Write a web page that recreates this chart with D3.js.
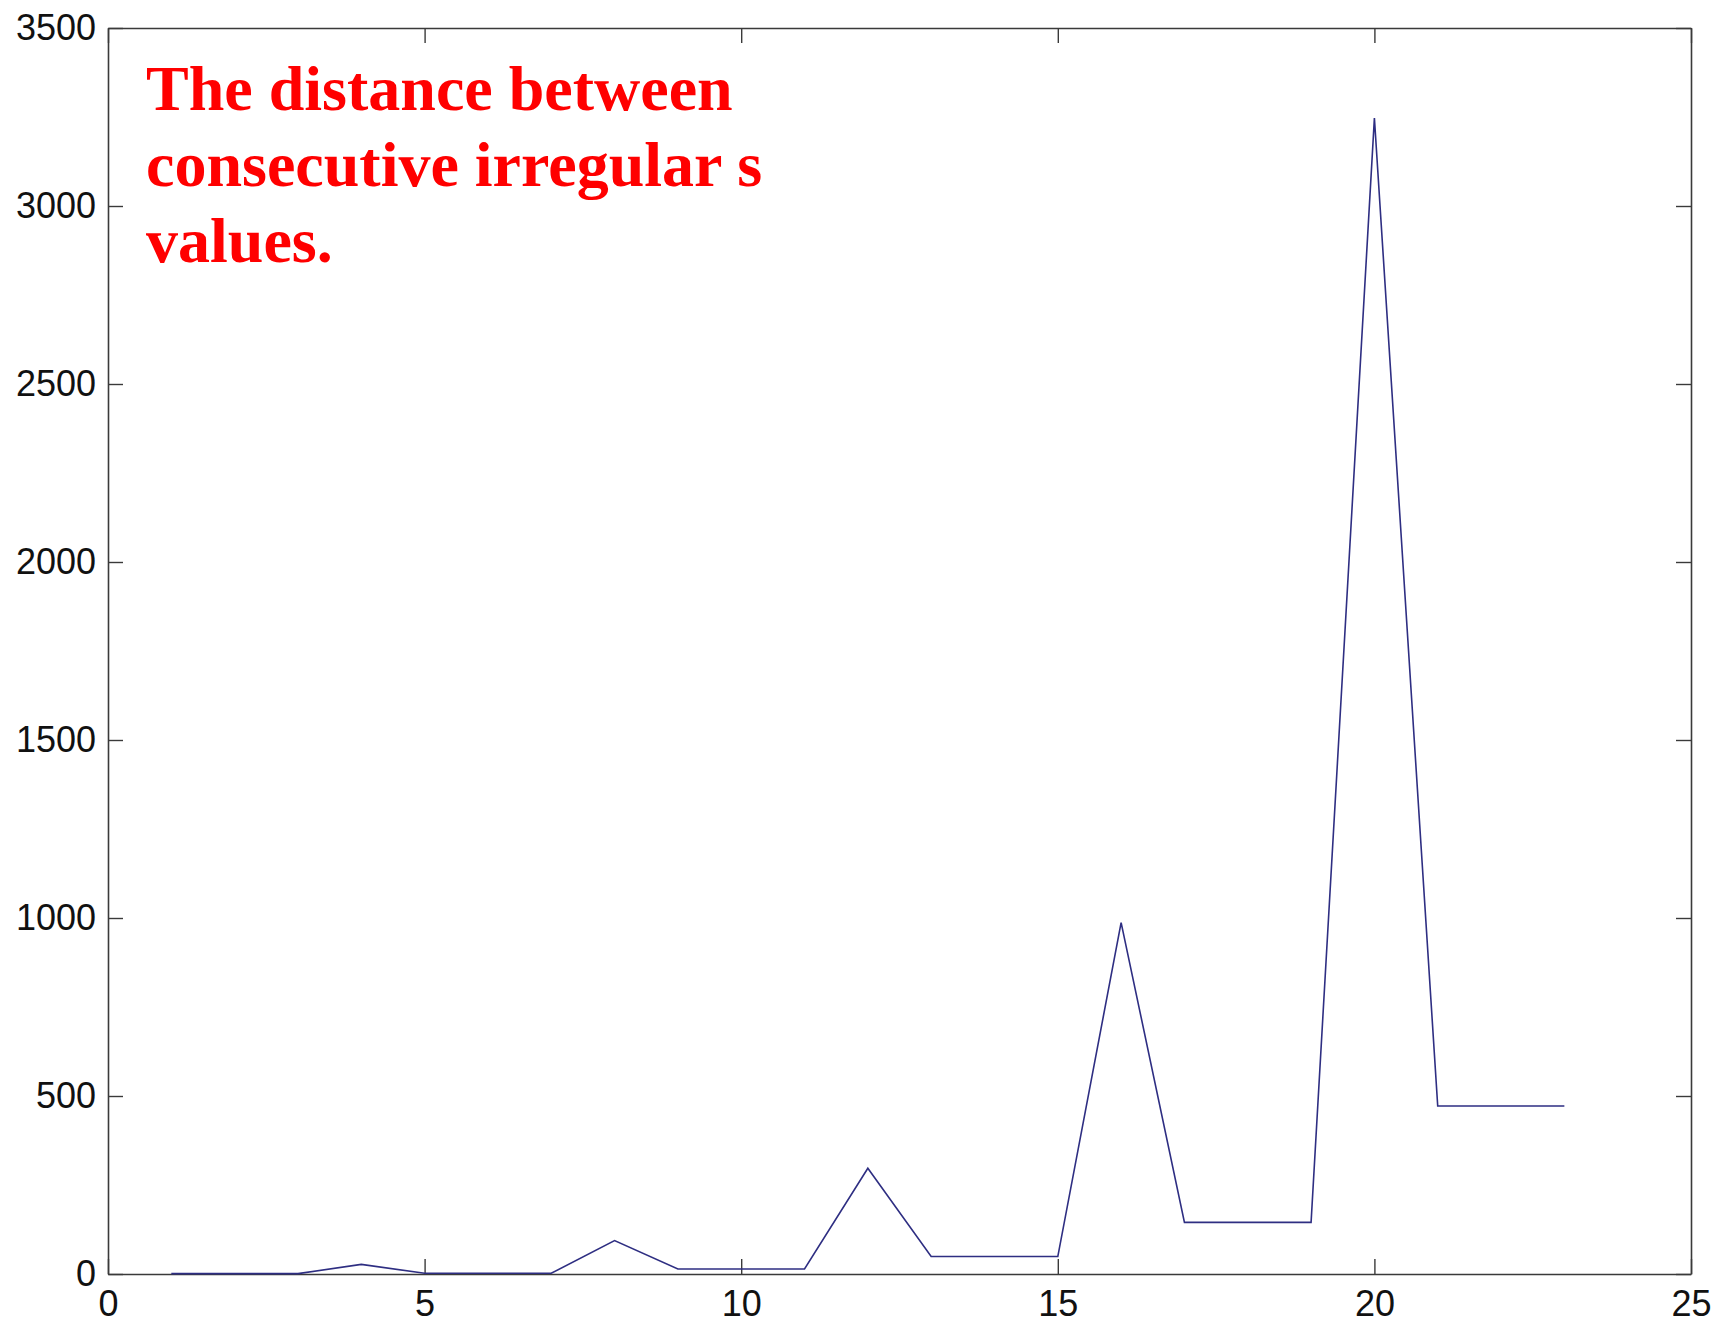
<!DOCTYPE html>
<html>
<head>
<meta charset="utf-8">
<script src="https://cdn.jsdelivr.net/npm/d3@7"></script>
<style>
  html, body { margin: 0; padding: 0; background: #ffffff; }
  svg { display: block; }
</style>
</head>
<body>
<svg id="chart" width="1722" height="1324"></svg>
<script>
// ---- data ----
const xValues = [1,2,3,4,5,6,7,8,9,10,11,12,13,14,15,16,17,18,19,20,21,22,23];
const yValues = [1,1,1,27,2,2,2,94,14,14,14,297,49,49,49,987,145,145,145,3247,472,472,472];
const xTicks = [0,5,10,15,20,25];
const yTicks = [0,500,1000,1500,2000,2500,3000,3500];
const titleLines = ["The distance between", "consecutive irregular s", "values."];

// ---- layout ----
const W = 1722, H = 1324;
const plotLeft = 108, plotRight = 1691, plotTop = 28, plotBottom = 1274;

const svg = d3.select("#chart");
svg.append("rect").attr("width", W).attr("height", H).attr("fill", "#ffffff");

const x = d3.scaleLinear().domain([0, 25]).range([plotLeft, plotRight]);
const y = d3.scaleLinear().domain([0, 3500]).range([plotBottom, plotTop]);

const axisColor = "#3a3a3a";
const tickFont = "'Liberation Sans', Arial, Helvetica, sans-serif";

function styleAxis(g) {
  g.selectAll("path.domain").attr("stroke", axisColor).attr("stroke-width", 1.6);
  g.selectAll(".tick line").attr("stroke", axisColor).attr("stroke-width", 1.4);
  g.selectAll(".tick text")
    .attr("fill", "#111")
    .style("font-family", tickFont)
    .style("font-size", "36px");
}

// bottom axis
svg.append("g")
  .attr("transform", `translate(0,${plotBottom})`)
  .call(d3.axisBottom(x).tickValues(xTicks).tickFormat(d3.format("d"))
        .tickSizeInner(-15).tickSizeOuter(0).tickPadding(16))
  .call(styleAxis);

// top axis (no labels)
svg.append("g")
  .attr("transform", `translate(0,${plotTop})`)
  .call(d3.axisTop(x).tickValues(xTicks).tickFormat("")
        .tickSizeInner(-15).tickSizeOuter(0))
  .call(styleAxis);

// left axis
svg.append("g")
  .attr("transform", `translate(${plotLeft},0)`)
  .call(d3.axisLeft(y).tickValues(yTicks).tickFormat(d3.format("d"))
        .tickSizeInner(-15).tickSizeOuter(0).tickPadding(12))
  .call(styleAxis);

// right axis (no labels)
svg.append("g")
  .attr("transform", `translate(${plotRight},0)`)
  .call(d3.axisRight(y).tickValues(yTicks).tickFormat("")
        .tickSizeInner(-15).tickSizeOuter(0))
  .call(styleAxis);

// data line
const line = d3.line()
  .x((d, i) => x(xValues[i]))
  .y(d => y(d));

svg.append("path")
  .datum(yValues)
  .attr("fill", "none")
  .attr("stroke", "#2e2e82")
  .attr("stroke-width", 1.6)
  .attr("stroke-linejoin", "miter")
  .attr("d", line);

// title annotation
const t = svg.append("text")
  .attr("x", 146)
  .attr("y", 110)
  .attr("fill", "#ff0000")
  .style("font-family", "'Liberation Serif', 'Times New Roman', serif")
  .style("font-weight", "bold")
  .style("font-size", "64px");
titleLines.forEach((s, i) => {
  t.append("tspan").attr("x", 146).attr("y", 110 + i * 76).text(s);
});
</script>
</body>
</html>
